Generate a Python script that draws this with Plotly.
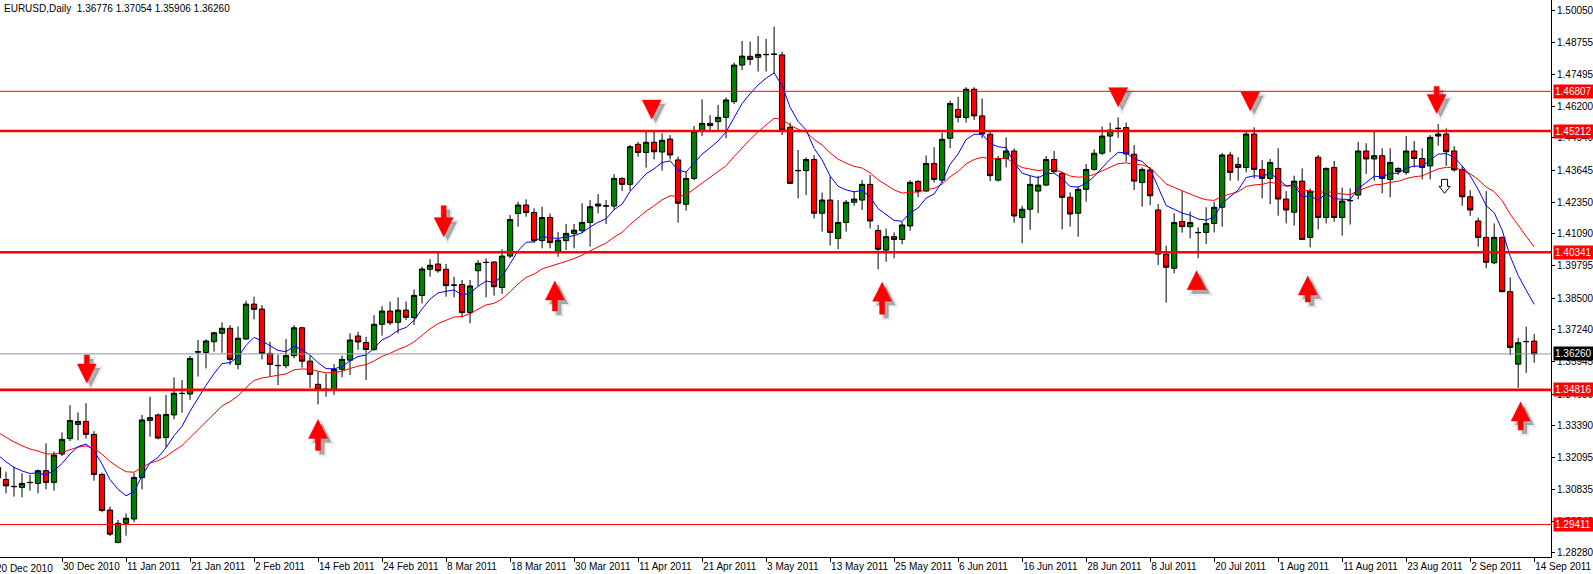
import pandas as pd
import plotly.graph_objects as go

# ---------------- data (EURUSD daily) ----------------
dates = pd.bdate_range("2010-12-20", "2011-09-14")

opens = [1.3170, 1.3122, 1.3094, 1.3090, 1.3109, 1.3106, 1.3157, 1.3110, 1.3224, 1.3286,
         1.3343, 1.3355, 1.3303, 1.3142, 1.2999, 1.2869, 1.2946, 1.2963, 1.3129, 1.3359,
         1.3381, 1.3290, 1.3381, 1.3468, 1.3465, 1.3633, 1.3632, 1.3675, 1.3709, 1.3729,
         1.3584, 1.3686, 1.3826, 1.3806, 1.3628, 1.3580, 1.3579, 1.3619, 1.3731, 1.3597,
         1.3504, 1.3483, 1.3481, 1.3564, 1.3601, 1.3698, 1.3672, 1.3644, 1.3745, 1.3798,
         1.3753, 1.3802, 1.3772, 1.3861, 1.3966, 1.3987, 1.3966, 1.3903, 1.3905, 1.3792,
         1.3960, 1.3994, 1.3995, 1.3893, 1.4019, 1.4190, 1.4224, 1.4194, 1.4081, 1.4174,
         1.4036, 1.4081, 1.4110, 1.4121, 1.4154, 1.4228, 1.4221, 1.4220, 1.4331, 1.4307,
         1.4468, 1.4435, 1.4476, 1.4437, 1.4489, 1.4405, 1.4227, 1.4331, 1.4521, 1.4552,
         1.4559, 1.4576, 1.4639, 1.4786, 1.4821, 1.4817, 1.4829, 1.4829, 1.4827, 1.4536,
         1.4363, 1.4362, 1.4407, 1.4191, 1.4244, 1.4090, 1.4154, 1.4235, 1.4244, 1.4307,
         1.4122, 1.4043, 1.4097, 1.4086, 1.4140, 1.4319, 1.4280, 1.4391, 1.4324, 1.4492,
         1.4608, 1.4575, 1.4689, 1.4582, 1.4508, 1.4324, 1.4411, 1.4441, 1.4174, 1.4207,
         1.4280, 1.4304, 1.4407, 1.4351, 1.4255, 1.4191, 1.4287, 1.4367, 1.4432, 1.4501,
         1.4531, 1.4535, 1.4428, 1.4314, 1.4365, 1.4204, 1.4027, 1.3970, 1.4158, 1.4137,
         1.4114, 1.4114, 1.4150, 1.4215, 1.4425, 1.4387, 1.4375, 1.4509, 1.4367, 1.4331,
         1.4371, 1.4248, 1.4195, 1.4320, 1.4094, 1.4416, 1.4174, 1.4375, 1.4174, 1.4241,
         1.4264, 1.4441, 1.4409, 1.4422, 1.4327, 1.4371, 1.4355, 1.4441, 1.4411, 1.4381,
         1.4501, 1.4509, 1.4441, 1.4367, 1.4257, 1.4160, 1.4094, 1.3992, 1.4094, 1.3876,
         1.3585, 1.3675, 1.36776]

highs = [1.3180, 1.3153, 1.3173, 1.3147, 1.3140, 1.3162, 1.3267, 1.3234, 1.3311, 1.3420,
         1.3391, 1.3428, 1.3316, 1.3149, 1.3013, 1.2959, 1.2986, 1.3147, 1.3381, 1.3454,
         1.3387, 1.3461, 1.3532, 1.3521, 1.3618, 1.3682, 1.3685, 1.3715, 1.3753, 1.3742,
         1.3736, 1.3840, 1.3856, 1.3822, 1.3675, 1.3622, 1.3686, 1.3742, 1.3735, 1.3619,
         1.3555, 1.3548, 1.3585, 1.3619, 1.3709, 1.3715, 1.3695, 1.3782, 1.3818, 1.3836,
         1.3853, 1.3836, 1.3885, 1.3976, 1.4007, 1.4037, 1.3987, 1.3936, 1.3923, 1.3923,
         1.4003, 1.4010, 1.3999, 1.4046, 1.4184, 1.4237, 1.4247, 1.4211, 1.4217, 1.4190,
         1.4115, 1.4148, 1.4148, 1.4231, 1.4244, 1.4268, 1.4244, 1.4348, 1.4335, 1.4465,
         1.4478, 1.4518, 1.4518, 1.4512, 1.4505, 1.4418, 1.4358, 1.4541, 1.4648, 1.4585,
         1.4626, 1.4656, 1.4796, 1.4883, 1.4880, 1.4903, 1.4891, 1.4940, 1.4840, 1.4555,
         1.4445, 1.4415, 1.4425, 1.4274, 1.4338, 1.4244, 1.4244, 1.4280, 1.4324, 1.4345,
         1.4144, 1.4130, 1.4114, 1.4157, 1.4324, 1.4324, 1.4423, 1.4456, 1.4515, 1.4643,
         1.4659, 1.4697, 1.4697, 1.4652, 1.4525, 1.4421, 1.4496, 1.4452, 1.4221, 1.4341,
         1.4341, 1.4421, 1.4441, 1.4358, 1.4275, 1.4298, 1.4389, 1.4448, 1.4539, 1.4555,
         1.4576, 1.4555, 1.4465, 1.4375, 1.4371, 1.4228, 1.4061, 1.4191, 1.4280, 1.4197,
         1.4134, 1.4215, 1.4237, 1.4434, 1.4438, 1.4416, 1.4525, 1.4536, 1.4405, 1.4409,
         1.4452, 1.4280, 1.4342, 1.4371, 1.4291, 1.4425, 1.4375, 1.4401, 1.4294, 1.4291,
         1.4478, 1.4472, 1.4519, 1.4452, 1.4452, 1.4375, 1.4501, 1.4481, 1.4452, 1.4505,
         1.4549, 1.4532, 1.4461, 1.4381, 1.4284, 1.4173, 1.4280, 1.4150, 1.4097, 1.3933,
         1.3691, 1.3735, 1.37054]

lows = [1.3068, 1.3066, 1.3053, 1.3050, 1.3077, 1.3066, 1.3082, 1.3077, 1.3216, 1.3276,
        1.3279, 1.3286, 1.3117, 1.2990, 1.2895, 1.2865, 1.2896, 1.2950, 1.3082, 1.3294,
        1.3283, 1.3250, 1.3363, 1.3390, 1.3441, 1.3535, 1.3568, 1.3635, 1.3631, 1.3582,
        1.3564, 1.3682, 1.3765, 1.3604, 1.3537, 1.3501, 1.3568, 1.3608, 1.3571, 1.3490,
        1.3423, 1.3454, 1.3461, 1.3532, 1.3541, 1.3642, 1.3521, 1.3638, 1.3699, 1.3742,
        1.3709, 1.3762, 1.3742, 1.3829, 1.3936, 1.3952, 1.3856, 1.3853, 1.3772, 1.3749,
        1.3899, 1.3853, 1.3860, 1.3867, 1.4010, 1.4137, 1.4177, 1.4073, 1.4050, 1.4050,
        1.4016, 1.4043, 1.4050, 1.4110, 1.4057, 1.4190, 1.4148, 1.4204, 1.4281, 1.4281,
        1.4418, 1.4374, 1.4407, 1.4362, 1.4407, 1.4153, 1.4201, 1.4324, 1.4501, 1.4525,
        1.4525, 1.4492, 1.4630, 1.4766, 1.4786, 1.4760, 1.4760, 1.4753, 1.4505, 1.4308,
        1.4251, 1.4264, 1.4170, 1.4117, 1.4061, 1.4047, 1.4117, 1.4221, 1.4204, 1.4130,
        1.3966, 1.3996, 1.4010, 1.4066, 1.4121, 1.4255, 1.4278, 1.4314, 1.4314, 1.4452,
        1.4556, 1.4555, 1.4565, 1.4492, 1.4320, 1.4318, 1.4375, 1.4153, 1.4070, 1.4124,
        1.4191, 1.4300, 1.4354, 1.4126, 1.4137, 1.4097, 1.4237, 1.4362, 1.4425, 1.4436,
        1.4494, 1.4398, 1.4284, 1.4217, 1.4224, 1.3983, 1.3832, 1.3950, 1.4113, 1.4090,
        1.4010, 1.4067, 1.4114, 1.4137, 1.4322, 1.4322, 1.4355, 1.4331, 1.4251, 1.4227,
        1.4181, 1.4150, 1.4141, 1.4084, 1.4054, 1.4126, 1.4150, 1.4157, 1.4101, 1.4146,
        1.4247, 1.4349, 1.4322, 1.4271, 1.4255, 1.4345, 1.4345, 1.4375, 1.4327, 1.4327,
        1.4462, 1.4381, 1.4358, 1.4221, 1.4181, 1.4057, 1.3970, 1.3987, 1.3873, 1.3621,
        1.3490, 1.3550, 1.35906]

closes = [1.3128, 1.3096, 1.3093, 1.3106, 1.3110, 1.3157, 1.3110, 1.3220, 1.3283, 1.3359,
          1.3355, 1.3303, 1.3142, 1.2997, 1.2902, 1.2946, 1.2966, 1.3130, 1.3361, 1.3370,
          1.3288, 1.3383, 1.3468, 1.3467, 1.3608, 1.3635, 1.3678, 1.3711, 1.3729, 1.3604,
          1.3689, 1.3826, 1.3805, 1.3628, 1.3584, 1.3579, 1.3619, 1.3731, 1.3597, 1.3544,
          1.3484, 1.3484, 1.3564, 1.3604, 1.3682, 1.3674, 1.3644, 1.3745, 1.3798, 1.3751,
          1.3802, 1.3773, 1.3861, 1.3967, 1.3982, 1.3960, 1.3900, 1.3902, 1.3792, 1.3899,
          1.3990, 1.3993, 1.3896, 1.4019, 1.4166, 1.4224, 1.4194, 1.4081, 1.4174, 1.4073,
          1.4083, 1.4110, 1.4123, 1.4154, 1.4217, 1.4220, 1.4220, 1.4331, 1.4307, 1.4458,
          1.4435, 1.4476, 1.4438, 1.4484, 1.4425, 1.4231, 1.4331, 1.4521, 1.4552, 1.4543,
          1.4576, 1.4646, 1.4786, 1.4822, 1.4809, 1.4829, 1.4828, 1.4830, 1.4525, 1.4311,
          1.4362, 1.4407, 1.4191, 1.4244, 1.4114, 1.4154, 1.4235, 1.4248, 1.4307, 1.4160,
          1.4046, 1.4097, 1.4086, 1.4144, 1.4315, 1.4278, 1.4391, 1.4327, 1.4488, 1.4632,
          1.4576, 1.4689, 1.4582, 1.4509, 1.4342, 1.4411, 1.4441, 1.4180, 1.4207, 1.4307,
          1.4304, 1.4407, 1.4358, 1.4255, 1.4188, 1.4287, 1.4367, 1.4432, 1.4501, 1.4525,
          1.4532, 1.4429, 1.4320, 1.4367, 1.4261, 1.4027, 1.3974, 1.4154, 1.4137, 1.4154,
          1.4113, 1.4150, 1.4215, 1.4425, 1.4355, 1.4375, 1.4509, 1.4367, 1.4331, 1.4395,
          1.4248, 1.4204, 1.4320, 1.4086, 1.4280, 1.4174, 1.4371, 1.4174, 1.4240, 1.4242,
          1.4441, 1.4409, 1.4422, 1.4331, 1.4395, 1.4358, 1.4441, 1.4411, 1.4375, 1.4496,
          1.4509, 1.4438, 1.4365, 1.4257, 1.4204, 1.4094, 1.3994, 1.4094, 1.3876, 1.3652,
          1.3671, 1.3676, 1.36260]

# moving averages (exponential, periods 8 and 21); starting values read at 20 Dec 2010
ema_fast_period, ema_slow_period = 8, 21
ema_fast_start, ema_slow_start = 1.3220, 1.3310

# horizontal levels
levels = [1.46807, 1.45212, 1.40341, 1.34816, 1.29411]
level_thick = [False, True, True, True, False]
bid_price = 1.36260

# x-axis labels (one every 8 bars)
tick_labels = ["20 Dec 2010", "30 Dec 2010", "11 Jan 2011", "21 Jan 2011", "2 Feb 2011",
               "14 Feb 2011", "24 Feb 2011", "8 Mar 2011", "18 Mar 2011", "30 Mar 2011",
               "11 Apr 2011", "21 Apr 2011", "3 May 2011", "13 May 2011", "25 May 2011",
               "6 Jun 2011", "16 Jun 2011", "28 Jun 2011", "8 Jul 2011", "20 Jul 2011",
               "1 Aug 2011", "11 Aug 2011", "23 Aug 2011", "2 Sep 2011", "14 Sep 2011"]
tick_dates = pd.to_datetime(tick_labels, format="%d %b %Y")

# y-axis labels
y_ticks = [1.50050, 1.48755, 1.47495, 1.46200, 1.44940, 1.43645, 1.42350, 1.41090, 1.39795,
           1.38500, 1.37240, 1.35945, 1.34650, 1.33390, 1.32095, 1.30835, 1.29540, 1.28280]

# annotation arrows: bar position, tip price, direction, shaft length (px)
arrow_bar = [11.1, 40.0, 55.7, 69.6, 81.7, 110.5, 140.0, 149.8, 156.5, 163.7, 179.8, 190.3]
arrow_tip = [1.3509, 1.3363, 1.4097, 1.3919, 1.4569, 1.3914, 1.4619, 1.3960, 1.4603, 1.3939, 1.4592, 1.3433]
arrow_dir = ["down", "up", "down", "up", "down", "up", "down", "up", "down", "up", "down", "up"]
arrow_shaft = [9, 12, 12, 11, 0, 13, 0, 0, 0, 7, 8, 9]
hollow_arrow = (180.8, 1.4271)

# ---------------- derived ----------------
xidx = list(range(len(dates)))
date_pos = {d: i for i, d in enumerate(dates)}
tick_vals = [date_pos[d] for d in tick_dates]


def ema(values, period, start):
    a = 2.0 / (period + 1)
    out = [start]
    for v in values[1:]:
        out.append(out[-1] + a * (v - out[-1]))
    return out


ema_fast = ema(closes, ema_fast_period, ema_fast_start)
ema_slow = ema(closes, ema_slow_period, ema_slow_start)

FONT = "Liberation Sans, Arial, sans-serif"

fig = go.Figure()
fig.add_trace(go.Candlestick(
    x=xidx, open=opens, high=highs, low=lows, close=closes,
    increasing=dict(fillcolor="#008000", line=dict(color="black", width=1)),
    decreasing=dict(fillcolor="#FF0000", line=dict(color="black", width=1)),
    whiskerwidth=0, showlegend=False, hoverinfo="skip"))
fig.add_trace(go.Scatter(x=xidx, y=ema_slow, mode="lines",
                         line=dict(color="#FF0000", width=1), showlegend=False, hoverinfo="skip"))
fig.add_trace(go.Scatter(x=xidx, y=ema_fast, mode="lines",
                         line=dict(color="#0000FF", width=1), showlegend=False, hoverinfo="skip"))

shapes = []
# bid line
shapes.append(dict(type="line", xref="paper", x0=0, x1=1, yref="y", y0=bid_price, y1=bid_price,
                   line=dict(color="#8894A0", width=1), layer="above"))
for lv, thick in zip(levels, level_thick):
    shapes.append(dict(type="line", xref="paper", x0=0, x1=1, yref="y", y0=lv, y1=lv,
                       line=dict(color="#FF0000", width=2.6 if thick else 1), layer="above"))


def arrow_points(direction, shaft, hw=19, hh=19, sw=5):
    s = 1 if direction == "down" else -1
    if shaft <= 0:
        return [(0, 0), (-hw / 2, s * hh), (hw / 2, s * hh)]
    return [(0, 0), (-hw / 2, s * hh), (-sw / 2, s * hh), (-sw / 2, s * (hh + shaft)),
            (sw / 2, s * (hh + shaft)), (sw / 2, s * hh), (hw / 2, s * hh)]


def to_path(pts, dx=0, dy=0):
    return "M " + " L ".join(f"{x + dx:.1f},{y + dy:.1f}" for x, y in pts) + " Z"


for b, p, d, sh in zip(arrow_bar, arrow_tip, arrow_dir, arrow_shaft):
    pts = arrow_points(d, sh)
    base = dict(type="path", xref="x", yref="y", xsizemode="pixel", ysizemode="pixel",
                xanchor=b, yanchor=p, layer="above")
    # soft shadow
    shapes.append(dict(base, path=to_path(pts, 4, -4), fillcolor="rgba(0,0,0,0.10)",
                       line=dict(color="rgba(0,0,0,0.08)", width=4)))
    shapes.append(dict(base, path=to_path(pts, 4, -4), fillcolor="rgba(0,0,0,0.22)",
                       line=dict(color="rgba(0,0,0,0)", width=0)))
    shapes.append(dict(base, path=to_path(pts), fillcolor="#FF0000",
                       line=dict(color="#FF0000", width=0.5)))

# small hollow arrow
hp = arrow_points("down", 7, hw=11, hh=7, sw=6)
shapes.append(dict(type="path", xref="x", yref="y", xsizemode="pixel", ysizemode="pixel",
                   xanchor=hollow_arrow[0], yanchor=hollow_arrow[1], layer="above",
                   path=to_path(hp), fillcolor="white", line=dict(color="black", width=1)))

annotations = []
annotations.append(dict(xref="paper", yref="paper", x=0, y=1, xanchor="left", yanchor="top",
                        xshift=2, yshift=-1, showarrow=False,
                        text="EURUSD,Daily\u00a0\u00a01.36776 1.37054 1.35906 1.36260",
                        font=dict(family=FONT, size=10, color="black")))
for lv in levels:
    annotations.append(dict(xref="paper", yref="y", x=1, y=lv, xanchor="left", yanchor="middle",
                            xshift=2, showarrow=False, text=f"{lv:.5f}",
                            bgcolor="#FF0000", borderpad=1, width=38, align="left",
                            font=dict(family=FONT, size=10, color="white")))
annotations.append(dict(xref="paper", yref="y", x=1, y=bid_price, xanchor="left", yanchor="middle",
                        xshift=2, showarrow=False, text=f"{bid_price:.5f}",
                        bgcolor="black", borderpad=1, width=38, align="left",
                        font=dict(family=FONT, size=10, color="white")))
# first (partly cut) date label at the left edge
annotations.append(dict(xref="paper", yref="paper", x=0, y=0, xanchor="left", yanchor="top",
                        xshift=-6, yshift=-4, showarrow=False, text=tick_labels[0],
                        font=dict(family=FONT, size=10, color="black")))

fig.update_layout(
    width=1593, height=574,
    margin=dict(l=0, r=42, t=0, b=17, autoexpand=False),
    paper_bgcolor="white", plot_bgcolor="white",
    showlegend=False, boxgap=0.34, boxgroupgap=0,
    shapes=shapes, annotations=annotations,
    xaxis=dict(range=[0.25, 194.1], showgrid=False, zeroline=False,
               tickmode="array", tickvals=tick_vals, ticktext=tick_labels,
               ticks="outside", ticklen=4, tickcolor="black", tickangle=0,
               ticklabelposition="outside right", automargin=False,
               showline=True, linecolor="black", linewidth=1,
               rangeslider=dict(visible=False),
               tickfont=dict(family=FONT, size=10, color="black")),
    yaxis=dict(range=[1.28104, 1.50474], side="right", showgrid=False, zeroline=False,
               tickmode="array", tickvals=y_ticks, ticktext=[f"{v:.5f}" for v in y_ticks],
               ticks="outside", ticklen=3, tickcolor="black", automargin=False,
               showline=True, linecolor="black", linewidth=1,
               tickfont=dict(family=FONT, size=10, color="black")),
)

fig.write_html("out.html", config={"displayModeBar": False},
               post_script="document.body.style.margin='0';document.body.style.overflow='hidden';")
